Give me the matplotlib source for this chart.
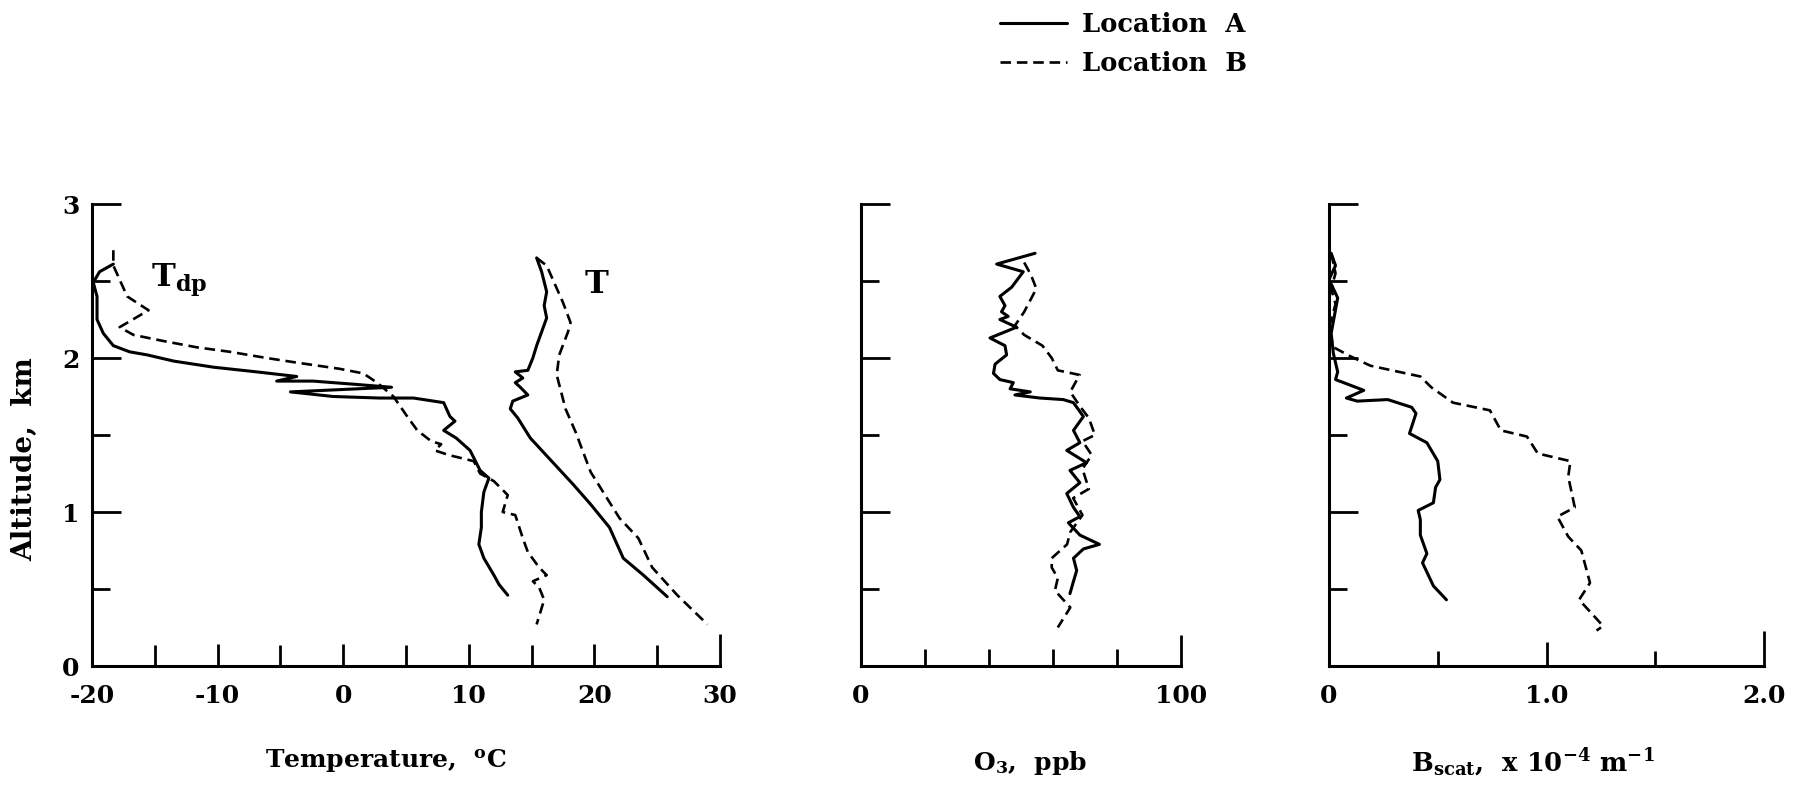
import numpy as np
import matplotlib.pyplot as plt

plt.rcParams['font.family'] = ['DejaVu Serif']
plt.rcParams['font.weight'] = 'bold'
plt.rcParams['mathtext.fontset'] = 'dejavuserif'
plt.rcParams['mathtext.default'] = 'bf'

# dew point, location A / B  (deg C vs km)
tdp_a_x = [-18.3, -19.4, -19.9, -19.6, -19.6, -19.1, -18.3, -17.0, -15.6, -13.5, -10.3, -6.9, -3.7,
           -5.3, -2.4, 0.8, 3.85, -4.2, -0.8, 2.9, 5.6, 8.0, 8.5, 8.9, 8.0, 9.0, 10.1, 10.9, 11.6,
           11.2, 11.0, 11.0, 10.8, 11.2, 12.0, 12.4, 13.1]
tdp_a_y = [2.61, 2.56, 2.49, 2.40, 2.25, 2.16, 2.08, 2.04, 2.02, 1.98, 1.94, 1.91, 1.88,
           1.85, 1.85, 1.83, 1.81, 1.78, 1.75, 1.74, 1.74, 1.71, 1.62, 1.59, 1.53, 1.48, 1.40, 1.27, 1.22,
           1.13, 1.00, 0.90, 0.79, 0.70, 0.59, 0.53, 0.46]
tdp_b_x = [-18.3, -18.3, -17.2, -15.5, -17.8, -16.7, -14.3, -11.7, -9.0, -6.1, -3.7, -0.3, 1.6, 2.7,
           4.0, 5.1, 5.9, 7.0, 7.8, 7.3, 8.4, 10.4, 10.9, 12.0, 13.1, 12.7, 13.7, 14.3, 14.7, 15.6,
           16.2, 15.1, 15.6, 16.0, 15.4]
tdp_b_y = [2.70, 2.60, 2.40, 2.31, 2.20, 2.15, 2.11, 2.07, 2.04, 2.00, 1.97, 1.93, 1.90, 1.84,
           1.75, 1.62, 1.53, 1.46, 1.44, 1.40, 1.37, 1.33, 1.25, 1.20, 1.11, 1.00, 0.98, 0.83, 0.74, 0.64,
           0.59, 0.55, 0.51, 0.43, 0.27]

# temperature
t_a_x = [15.4, 15.8, 16.2, 16.0, 16.2, 15.8, 15.4, 15.1, 14.7, 13.7, 14.3, 13.7, 14.1, 14.7, 13.5,
         13.3, 13.9, 14.9, 16.6, 18.3, 19.7, 21.2, 22.3, 23.9, 25.8]
t_a_y = [2.65, 2.56, 2.43, 2.34, 2.26, 2.17, 2.08, 2.00, 1.92, 1.91, 1.87, 1.84, 1.81, 1.76, 1.72,
         1.67, 1.61, 1.48, 1.33, 1.18, 1.05, 0.90, 0.70, 0.59, 0.45]
t_b_x = [15.4, 16.2, 17.5, 18.1, 17.9, 17.2, 17.0, 17.7, 18.5, 19.1, 19.7, 21.0, 22.0, 23.5, 24.6,
         26.6, 29.0]
t_b_y = [2.65, 2.60, 2.36, 2.23, 2.17, 2.02, 1.89, 1.67, 1.52, 1.39, 1.26, 1.09, 0.96, 0.83, 0.64,
         0.46, 0.27]

# ozone, ppb
o3_a_x = [54.4, 42.4, 50.7, 47.1, 43.4, 45.0, 43.9, 46.0, 43.4, 48.6, 40.3, 45.0, 45.5, 41.9, 41.4,
          43.4, 47.6, 46.6, 52.9, 48.1, 55.9, 63.2, 66.4, 69.5, 66.4, 68.4, 64.3, 70.5, 65.3, 68.4,
          64.3, 66.4, 68.4, 64.8, 68.4, 74.5, 69.5, 66.4, 67.4, 66.4, 65.3]
o3_a_y = [2.68, 2.61, 2.56, 2.46, 2.40, 2.34, 2.30, 2.27, 2.25, 2.20, 2.13, 2.08, 2.02, 1.96, 1.90,
          1.86, 1.84, 1.80, 1.78, 1.76, 1.74, 1.73, 1.71, 1.62, 1.53, 1.45, 1.40, 1.32, 1.27, 1.19,
          1.12, 1.03, 0.97, 0.93, 0.85, 0.79, 0.76, 0.70, 0.62, 0.55, 0.47]
o3_b_x = [51.0, 53.1, 54.8, 51.0, 48.1, 51.0, 56.7, 59.6, 61.5, 68.3, 65.4, 68.3, 71.2, 73.1, 69.2,
          72.1, 69.2, 71.2, 66.3, 69.2, 65.4, 64.4, 59.6, 59.6, 61.5, 60.6, 65.4, 61.5]
o3_b_y = [2.62, 2.54, 2.45, 2.30, 2.21, 2.15, 2.08, 2.00, 1.92, 1.89, 1.78, 1.69, 1.61, 1.50, 1.46,
          1.37, 1.28, 1.15, 1.09, 0.98, 0.87, 0.79, 0.70, 0.64, 0.57, 0.49, 0.38, 0.25]

# scattering coefficient, 1e-4 / m
bs_a_x = [0.01, 0.03, 0.0, 0.04, 0.01, 0.02, 0.04, 0.03, 0.16, 0.08, 0.13, 0.27, 0.38, 0.40, 0.37,
          0.45, 0.50, 0.51, 0.49, 0.48, 0.41, 0.42, 0.42, 0.45, 0.43, 0.45, 0.48, 0.54]
bs_a_y = [2.68, 2.60, 2.51, 2.39, 2.16, 2.03, 1.91, 1.86, 1.79, 1.74, 1.72, 1.73, 1.68, 1.64, 1.51,
          1.45, 1.33, 1.21, 1.16, 1.06, 1.01, 0.95, 0.85, 0.73, 0.67, 0.61, 0.52, 0.43]
bs_b_x = [0.01, 0.03, 0.01, 0.03, 0.0, 0.02, 0.10, 0.19, 0.42, 0.47, 0.57, 0.74, 0.79, 0.91, 0.96,
          1.11, 1.10, 1.13, 1.05, 1.10, 1.16, 1.20, 1.15, 1.26, 1.23]
bs_b_y = [2.68, 2.55, 2.45, 2.35, 2.20, 2.07, 2.01, 1.95, 1.88, 1.81, 1.71, 1.66, 1.53, 1.49, 1.38,
          1.33, 1.23, 1.03, 0.97, 0.84, 0.75, 0.54, 0.43, 0.26, 0.23]

solid = dict(color='black', lw=2.2, ls='-', solid_capstyle='round', solid_joinstyle='round')
dashed = dict(color='black', lw=1.9, ls=(0, (4, 2.2)))


def style_axis(ax, xlim, xmajor, xlabels, xminor, minor_len, end_lens):
    ax.set_xlim(*xlim)
    ax.set_ylim(0, 3)
    ax.spines['top'].set_visible(False)
    ax.spines['right'].set_visible(False)
    ax.spines['left'].set_linewidth(2.2)
    ax.spines['bottom'].set_linewidth(2.2)
    ax.set_xticks(xmajor)
    ax.set_xticklabels(xlabels)
    ax.set_xticks(xminor, minor=True)
    ax.set_yticks([0, 1, 2, 3])
    ax.set_yticks([0.5, 1.5, 2.5], minor=True)
    ax.tick_params(which='both', direction='in', width=2, labelsize=18)
    ax.tick_params(axis='y', which='major', length=21, pad=9)
    ax.tick_params(axis='y', which='minor', length=13)
    ax.tick_params(axis='x', which='major', length=16, pad=13)
    ax.tick_params(axis='x', which='minor', length=minor_len)
    # last ticks along x are drawn longer in the original
    ticks = ax.xaxis.get_major_ticks()
    for i, ln in end_lens.items():
        ticks[i].tick1line.set_markersize(ln)


fig = plt.figure(figsize=(18, 7.96), dpi=100)
ax1 = fig.add_axes([92 / 1800, 130 / 796, 628 / 1800, 462 / 796])
ax2 = fig.add_axes([861 / 1800, 130 / 796, 320 / 1800, 462 / 796])
ax3 = fig.add_axes([1329 / 1800, 130 / 796, 435 / 1800, 462 / 796])

# temperature panel
l1, = ax1.plot(tdp_a_x, tdp_a_y, **solid)
l2, = ax1.plot(tdp_b_x, tdp_b_y, **dashed)
ax1.plot(t_a_x, t_a_y, **solid)
ax1.plot(t_b_x, t_b_y, **dashed)
ax1.text(-15.3, 2.46, r'T$_{\mathbf{dp}}$', fontsize=23)
ax1.text(19.2, 2.42, 'T', fontsize=23)
style_axis(ax1, (-20, 30), [-20, -10, 0, 10, 20, 30], ['-20', '-10', '0', '10', '20', '30'],
           [-15, -5, 5, 15, 25], 15, {5: 23})

# ozone panel
ax2.plot(o3_a_x, o3_a_y, **solid)
ax2.plot(o3_b_x, o3_b_y, **dashed)
style_axis(ax2, (0, 100), [0, 100], ['0', '100'], [20, 40, 60, 80], 12, {1: 22})
ax2.tick_params(axis='y', labelleft=False)

# scattering panel
ax3.plot(bs_a_x, bs_a_y, **solid)
ax3.plot(bs_b_x, bs_b_y, **dashed)
style_axis(ax3, (0, 2.0), [0, 1.0, 2.0], ['0', '1.0', '2.0'], [0.5, 1.5], 11, {1: 17, 2: 25})
ax3.tick_params(axis='y', labelleft=False)

fig.text(25 / 1800, 1 - 459 / 796, 'Altitude,  km', rotation=90, fontsize=20,
         ha='center', va='center')
fig.text(386 / 1800, 1 - 761 / 796, r'Temperature,  $^{\mathbf{o}}$C', fontsize=18,
         ha='center', va='center')
fig.text(1030 / 1800, 1 - 763 / 796, r'O$_3$,  ppb', fontsize=18, ha='center', va='center')
fig.text(1533 / 1800, 1 - 763 / 796, r'B$_{\mathbf{scat}}$,  x 10$^{-4}$ m$^{-1}$', fontsize=18.5,
         ha='center', va='center')

fig.legend([l1, l2], ['Location  A', 'Location  B'], loc='upper left',
           bbox_to_anchor=(1000 / 1800, 1 - 12 / 796), frameon=False, fontsize=18.5,
           handlelength=2.6, handletextpad=0.6, labelspacing=0.55, borderaxespad=0, borderpad=0)

fig.savefig('out.png', dpi=100)
